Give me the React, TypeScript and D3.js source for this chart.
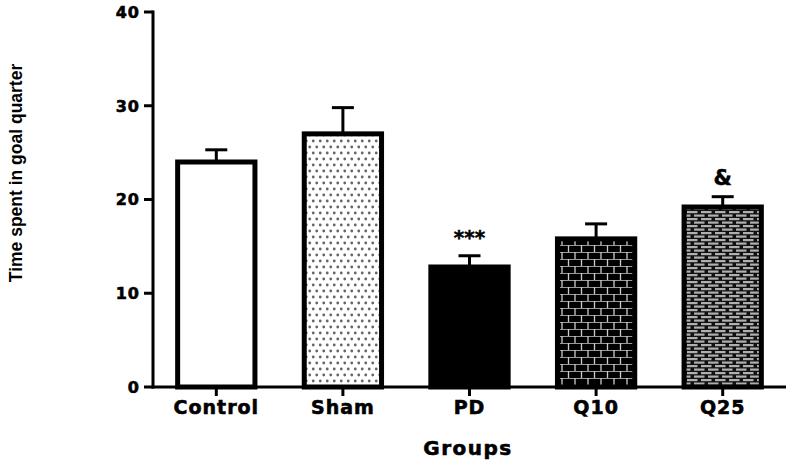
import React from 'react';
import * as d3 from 'd3';

const groups = ['Control', 'Sham', 'PD', 'Q10', 'Q25'];
const means = [24, 27, 12.8, 15.8, 19.2];
const sems = [1.3, 2.8, 1.2, 1.6, 1.1];
const marks = ['', '', '***', '', '&'];
const yTicks = [0, 10, 20, 30, 40];

const W = 789;
const H = 462;
const margin = { top: 12, right: 3, bottom: 75, left: 153 };

const fills = ['#fff', 'url(#dots)', '#000', 'url(#bricks)', 'url(#dashes)'];

export default function App() {
  const x = d3.scaleBand<string>()
    .domain(groups)
    .range([margin.left, W - margin.right])
    .paddingInner(0.35)
    .paddingOuter(0.175);

  const y = d3.scaleLinear()
    .domain([0, 40])
    .range([H - margin.bottom, margin.top]);

  const base = y(0);
  const sw = 5; // bar outline
  const tickFont = 'DejaVu Sans, sans-serif';

  return (
    <svg width={W} height={H} style={{ position: 'absolute', left: 0, top: 0, background: '#fff' }}>
      <defs>
        <pattern id="dots" width={7} height={12} patternUnits="userSpaceOnUse">
          <rect width={7} height={12} fill="#fff" />
          <circle cx={1.75} cy={3} r={1.4} fill="#666" />
          <circle cx={5.25} cy={9} r={1.4} fill="#666" />
        </pattern>
        <pattern id="bricks" width={13} height={14} patternUnits="userSpaceOnUse">
          <rect width={13} height={14} fill="#000" />
          <line x1={0} x2={13} y1={0.5} y2={0.5} stroke="#999" strokeWidth={1} />
          <line x1={0} x2={13} y1={7.5} y2={7.5} stroke="#999" strokeWidth={1} />
          <line x1={3} x2={3} y1={0} y2={7} stroke="#ccc" strokeWidth={1.3} />
          <line x1={9.5} x2={9.5} y1={7} y2={14} stroke="#ccc" strokeWidth={1.3} />
        </pattern>
        <pattern id="dashes" width={14} height={7} patternUnits="userSpaceOnUse">
          <rect width={14} height={7} fill="#111" />
          <rect x={1} y={1} width={10.5} height={2.2} fill="#b0b0b0" />
          <rect x={8} y={4.5} width={10.5} height={2.2} fill="#b0b0b0" />
          <rect x={-6} y={4.5} width={10.5} height={2.2} fill="#b0b0b0" />
        </pattern>
      </defs>

      {/* bars */}
      {groups.map((g, i) => {
        const x0 = x(g)! + sw / 2;
        const bw = x.bandwidth() - sw;
        const top = y(means[i]);
        const cx = x(g)! + x.bandwidth() / 2;
        const errTop = y(means[i] + sems[i]);
        return (
          <g key={g}>
            <line x1={cx} x2={cx} y1={top} y2={errTop} stroke="#000" strokeWidth={3} />
            <line x1={cx - 11} x2={cx + 11} y1={errTop} y2={errTop} stroke="#000" strokeWidth={3} />
            <rect x={x0} y={top} width={bw} height={base - top} fill={fills[i]} stroke="#000" strokeWidth={sw} />
            {marks[i] && (
              <text x={cx} y={errTop - 12} textAnchor="middle" fontFamily={tickFont} fontWeight="bold"
                fontSize={marks[i] === '&' ? 21 : 20} fill="#000" stroke="#000" strokeWidth={0.5}>{marks[i]}</text>
            )}
          </g>
        );
      })}

      {/* y axis */}
      <line x1={margin.left} x2={margin.left} y1={y(40) - 1.5} y2={base + 1.5} stroke="#000" strokeWidth={3} />
      {yTicks.map(t => (
        <g key={t} transform={`translate(${margin.left},${y(t)})`}>
          <line x1={-9} x2={0} stroke="#000" strokeWidth={3} />
          <text x={-13} dy="0.36em" textAnchor="end" fontFamily={tickFont} fontWeight="bold" fontSize={16}
            letterSpacing={1} fill="#000" stroke="#000" strokeWidth={0.6}>{t}</text>
        </g>
      ))}

      {/* x axis */}
      <line x1={margin.left - 1.5} x2={W - margin.right} y1={base} y2={base} stroke="#000" strokeWidth={3} />
      {groups.map(g => {
        const cx = x(g)! + x.bandwidth() / 2;
        return (
          <g key={g} transform={`translate(${cx},${base})`}>
            <line y1={0} y2={9} stroke="#000" strokeWidth={3} />
            <text y={27} textAnchor="middle" fontFamily={tickFont} fontWeight="bold" fontSize={19}
              letterSpacing={1} fill="#000" stroke="#000" strokeWidth={0.6}>{g}</text>
          </g>
        );
      })}

      <text x={468} y={455} textAnchor="middle" fontFamily={tickFont} fontWeight="bold" fontSize={20}
        letterSpacing={1.5} fill="#000" stroke="#000" strokeWidth={0.6}>Groups</text>

      <text transform="translate(22,173) rotate(-90)" textAnchor="middle"
        fontFamily="Liberation Sans, Arial, sans-serif" fontWeight="bold" fontSize={17.5} fill="#000">
        Time spent in goal quarter
      </text>
    </svg>
  );
}
